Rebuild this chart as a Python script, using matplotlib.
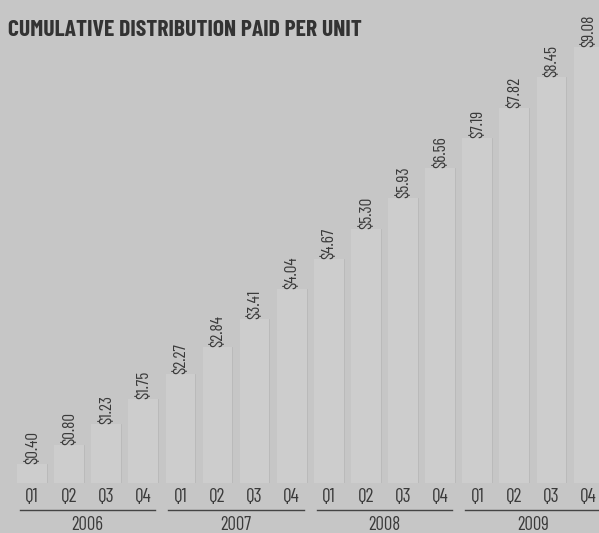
import matplotlib
matplotlib.use("Agg")
import matplotlib.pyplot as plt
from matplotlib import font_manager

years = ["2006", "2007", "2008", "2009"]
quarters = ["Q1", "Q2", "Q3", "Q4"]
values = [0.40, 0.80, 1.23, 1.75, 2.27, 2.84, 3.41, 4.04,
          4.67, 5.30, 5.93, 6.56, 7.19, 7.82, 8.45, 9.08]
value_labels = ["$0.40", "$0.80", "$1.23", "$1.75", "$2.27", "$2.84", "$3.41", "$4.04",
                "$4.67", "$5.30", "$5.93", "$6.56", "$7.19", "$7.82", "$8.45", "$9.08"]
title = "CUMULATIVE DISTRIBUTION PAID PER UNIT"

avail = {f.name for f in font_manager.fontManager.ttflist}
fam = ["Barlow Condensed", "DejaVu Sans"] if "Barlow Condensed" in avail else ["DejaVu Sans"]

bg = "#c6c6c6"
barc = "#cdcdcd"
txt = "#3a3a3a"

fig = plt.figure(figsize=(5.99, 5.33), dpi=100)
fig.patch.set_facecolor(bg)
W, H = 599, 533
base_px = 483
ax = fig.add_axes([0, 1 - base_px / H, 1, base_px / H])
ax.set_facecolor(bg)
step = 37.1
x0 = 32
ax.set_xlim(-x0 / step, (W - x0) / step)
ax.set_ylim(0, base_px / 48.0)
ax.axis("off")

xs = list(range(len(values)))
ax.bar(xs, values, width=0.8, color=barc, edgecolor="none")
for x, v in zip(xs, values):
    ax.plot([x + 0.4, x + 0.4], [0, v], color="#b8b8b8", lw=0.6)
for x, v, lab in zip(xs, values, value_labels):
    ax.text(x, v, lab, rotation=90, ha="center", va="bottom", fontsize=12.5,
            family=fam, color=txt)

def fx(i):
    return (x0 + step * i) / W

for i in range(16):
    fig.text(fx(i), 1 - 497 / H, quarters[i % 4], ha="center", va="center",
             fontsize=14, family=fam, color=txt)
for g, y in enumerate(years):
    left = fx(4 * g) - 12 / W
    right = fx(4 * g + 3) + 12 / W
    fig.add_artist(plt.Line2D([left, right], [1 - 510 / H] * 2, color="#444444", lw=1.0))
    fig.text((left + right) / 2, 1 - 525 / H, y, ha="center", va="center",
             fontsize=13.5, family=fam, color=txt)

fig.text(8 / W, 1 - 30 / H, title, ha="left", va="center", fontsize=17,
         family=fam, weight="bold", color="#333333")

fig.savefig("out.png", dpi=100, facecolor=bg)
